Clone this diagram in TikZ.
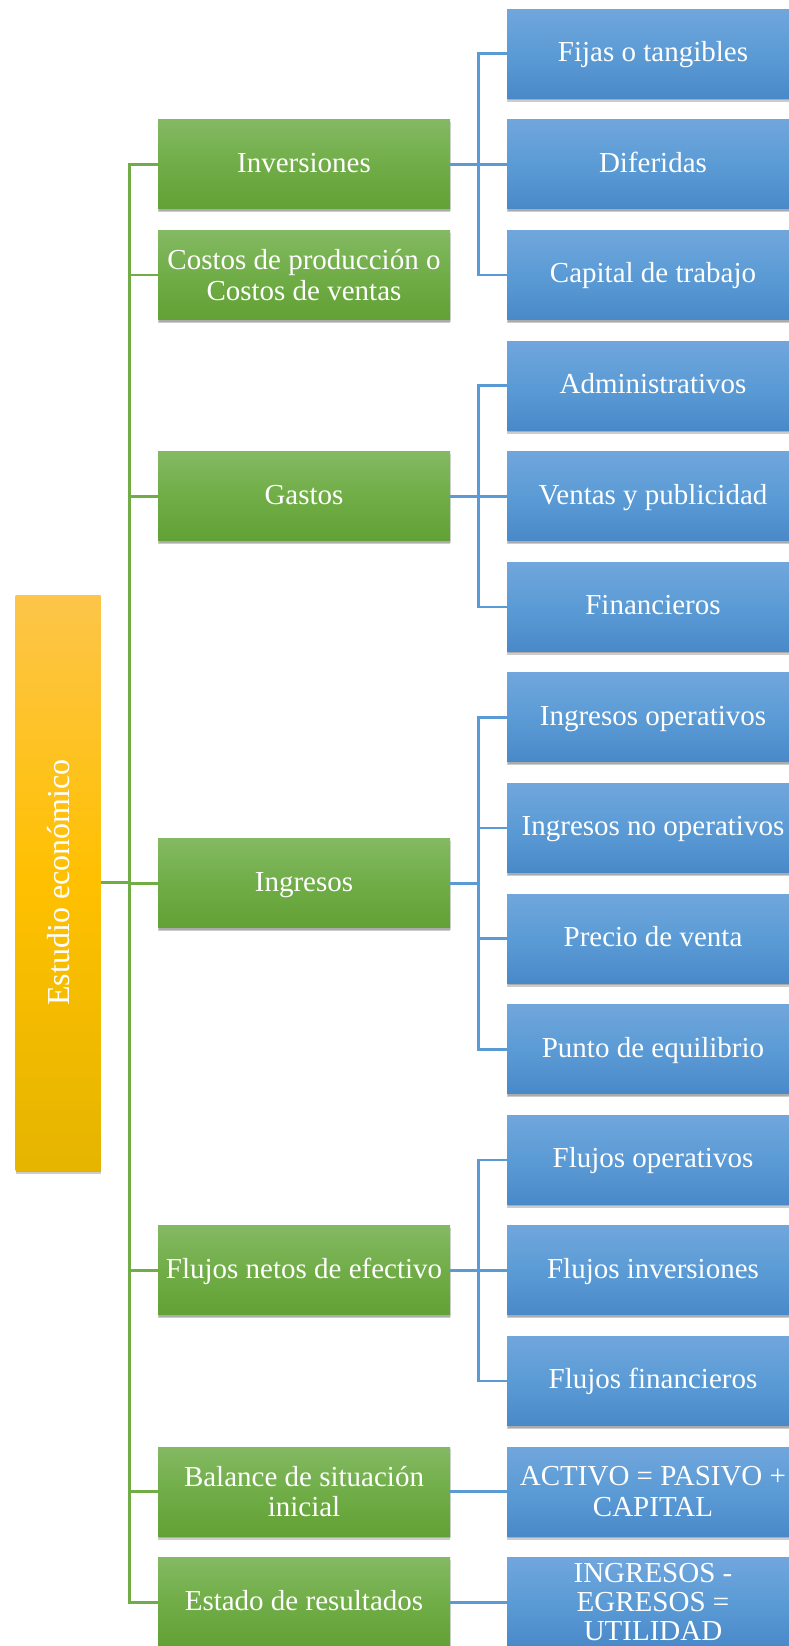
\documentclass[tikz,border=0pt]{standalone}
\usepackage{fontspec}
\setmainfont{Liberation Serif}
\usetikzlibrary{shadows}
\definecolor{gtop}{HTML}{84B963}
\definecolor{gmid}{HTML}{70AD47}
\definecolor{gbot}{HTML}{62A135}
\definecolor{btop}{HTML}{70A6DC}
\definecolor{bmid}{HTML}{5B9BD5}
\definecolor{bbot}{HTML}{4A89C9}
\definecolor{otop}{HTML}{FDC54A}
\definecolor{omid}{HTML}{FFC000}
\definecolor{obot}{HTML}{E5B500}
\definecolor{gline}{HTML}{70AD47}
\definecolor{bline}{HTML}{5B9BD5}
\begin{document}
\begin{tikzpicture}[x=1pt,y=-1pt,
  box/.style={rectangle, minimum width=292pt, minimum height=89pt, inner sep=1pt,
    align=center, text=white, font=\fontsize{29}{30.5}\selectfont,
    drop shadow={shadow xshift=0pt, shadow yshift=-3.5pt, fill=black, opacity=0.2},
    drop shadow={shadow xshift=0.5pt, shadow yshift=-2pt, fill=black, opacity=0.16}},
  one/.style={text height=22pt, text depth=6.2pt},
  gbox/.style={box, top color=gtop, bottom color=gbot, middle color=gmid},
  bbox/.style={box, top color=btop, bottom color=bbot, middle color=bmid},
  obox/.style={rectangle, minimum width=85pt, minimum height=575pt, inner sep=0pt,
    text=white, font=\fontsize{32}{34}\selectfont,
    top color=otop, bottom color=obot, middle color=omid,
    drop shadow={shadow xshift=0pt, shadow yshift=-3.5pt, fill=black, opacity=0.2},
    drop shadow={shadow xshift=0.5pt, shadow yshift=-2pt, fill=black, opacity=0.16}},
  gconn/.style={draw=gline, line width=2.6pt},
  bconn/.style={draw=bline, line width=2.6pt}]
\useasboundingbox[fill=white] (0,0) rectangle (789,1646);
% rows: center = 53.8 + 110.6 k
\node[obox] (est) at (58.2,882.5) {\rotatebox{90}{Estudio económico}};
% green level
\node[gbox, one] (inv) at (304,164.4) {Inversiones};
\node[gbox] (cos) at (304,275.0) {Costos de producción o\\Costos de ventas};
\node[gbox, one] (gas) at (304,496.2) {Gastos};
\node[gbox, one] (ing) at (304,883.3) {Ingresos};
\node[gbox, one] (flu) at (304,1270.4) {Flujos netos de efectivo};
\node[gbox] (bal) at (304,1491.6) {Balance de situación\\inicial};
\node[gbox, one] (res) at (304,1602.2) {Estado de resultados};
% blue level
\node[bbox, one] (fij) at (653,53.8) {Fijas o tangibles};
\node[bbox, one] (dif) at (653,164.4) {Diferidas};
\node[bbox, one] (cap) at (653,275.0) {Capital de trabajo};
\node[bbox, one] (adm) at (653,385.6) {Administrativos};
\node[bbox, one] (ven) at (653,496.2) {Ventas y publicidad};
\node[bbox, one] (fin) at (653,606.8) {Financieros};
\node[bbox, one] (iop) at (653,717.4) {Ingresos operativos};
\node[bbox, one] (ino) at (653,828.0) {Ingresos no operativos};
\node[bbox, one] (pre) at (653,938.6) {Precio de venta};
\node[bbox, one] (pun) at (653,1049.2) {Punto de equilibrio};
\node[bbox, one] (fop) at (653,1159.8) {Flujos operativos};
\node[bbox, one] (fiv) at (653,1270.4) {Flujos inversiones};
\node[bbox, one] (ffi) at (653,1381.0) {Flujos financieros};
\node[bbox] (act) at (653,1491.6) {ACTIVO = PASIVO +\\CAPITAL};
\node[bbox, font=\fontsize{29}{29.3}\selectfont] (utl) at (653,1602.2) {INGRESOS -\\EGRESOS =\\UTILIDAD};
% trunk coordinates
\coordinate (tk) at (129.3,0);
\coordinate (bk) at (478.3,0);
% green connectors
\draw[gconn] (inv.west) -- (inv.west -| tk) -- (res.west -| tk) -- (res.west);
\draw[gconn] (cos.west) -- (cos.west -| tk);
\draw[gconn] (gas.west) -- (gas.west -| tk);
\draw[gconn] (ing.west) -- (ing.west -| tk);
\draw[gconn] (flu.west) -- (flu.west -| tk);
\draw[gconn] (bal.west) -- (bal.west -| tk);
\draw[gconn] (est.east) -- (est.east -| tk);
% blue connectors
\draw[bconn] (fij.west) -- (fij.west -| bk) -- (cap.west -| bk) -- (cap.west);
\draw[bconn] (inv.east) -- (dif.west);
\draw[bconn] (adm.west) -- (adm.west -| bk) -- (fin.west -| bk) -- (fin.west);
\draw[bconn] (gas.east) -- (ven.west);
\draw[bconn] (iop.west) -- (iop.west -| bk) -- (pun.west -| bk) -- (pun.west);
\draw[bconn] (ing.east) -- (ing.east -| bk);
\draw[bconn] (ino.west) -- (ino.west -| bk);
\draw[bconn] (pre.west) -- (pre.west -| bk);
\draw[bconn] (fop.west) -- (fop.west -| bk) -- (ffi.west -| bk) -- (ffi.west);
\draw[bconn] (flu.east) -- (fiv.west);
\draw[bconn] (bal.east) -- (act.west);
\draw[bconn] (res.east) -- (utl.west);
\end{tikzpicture}
\end{document}
